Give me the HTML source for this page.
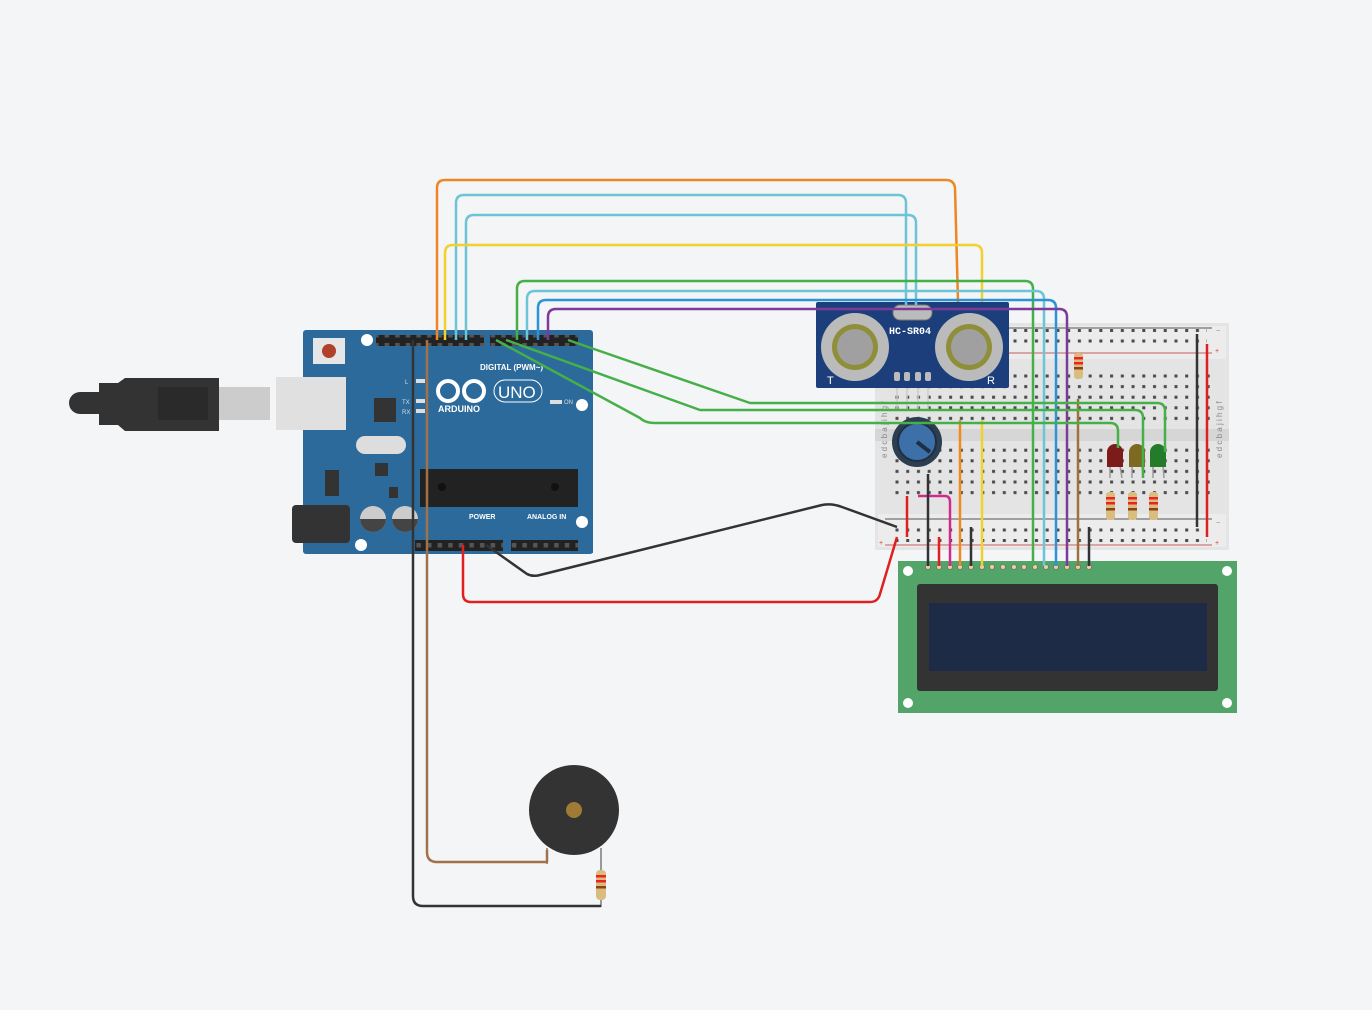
<!DOCTYPE html>
<html><head><meta charset="utf-8"><style>
html,body{margin:0;padding:0;background:#f3f5f7;}
svg{display:block;font-family:"Liberation Sans",sans-serif;}
</style></head><body>
<svg width="1372" height="1010" viewBox="0 0 1372 1010" xmlns="http://www.w3.org/2000/svg">
<defs>
<pattern id="dots" x="892" y="0" width="10.73" height="10.6" patternUnits="userSpaceOnUse">
<rect x="3.5" y="3.5" width="3" height="3" fill="#4a4a4a"/></pattern>
<pattern id="rdots" x="892" y="0" width="10.73" height="10.5" patternUnits="userSpaceOnUse">
<rect x="3.5" y="3.5" width="3" height="3" fill="#4a4a4a"/></pattern>
<pattern id="pins" x="0" y="0" width="10.6" height="10" patternUnits="userSpaceOnUse">
<rect x="3" y="3" width="4.5" height="4.5" fill="#555"/></pattern>
</defs>
<rect width="1372" height="1010" fill="#f3f5f7"/>

<!-- Breadboard -->
<rect x="875" y="323" width="354" height="227" fill="#e4e4e4" rx="2"/>
<rect x="878" y="326" width="348" height="33" fill="#ececec"/>
<rect x="878" y="514" width="348" height="33" fill="#ececec"/>
<rect x="875" y="429" width="354" height="12" fill="#d6d6d6"/>
<line x1="885" y1="328" x2="1212" y2="328" stroke="#555" stroke-width="1"/>
<line x1="885" y1="353" x2="1212" y2="353" stroke="#c65b5b" stroke-width="1"/>
<line x1="885" y1="519" x2="1212" y2="519" stroke="#555" stroke-width="1"/>
<line x1="885" y1="545" x2="1212" y2="545" stroke="#c65b5b" stroke-width="1"/>
<rect x="892" y="329" width="315" height="21" fill="url(#rdots)"/>
<rect x="892" y="521" width="315" height="21" fill="url(#rdots)"/>
<rect x="892" y="373" width="322" height="53" fill="url(#dots)"/>
<rect x="892" y="447" width="322" height="53" fill="url(#dots)"/>
<g font-size="7" fill="#777">
<text x="1216" y="333">−</text><text x="1215" y="353" fill="#d33">+</text>
<text x="1216" y="525">−</text><text x="1215" y="545" fill="#d33">+</text>
<text x="879" y="545" fill="#d33">+</text>
</g>
<g font-size="8" fill="#888" transform="rotate(-90)">
<text x="-458" y="887">e d c b a</text>
<text x="-425" y="887">j i h g f</text>
<text x="-458" y="1222">e d c b a</text>
<text x="-425" y="1222">j i h g f</text>
</g>

<!-- LCD -->
<rect x="898" y="561" width="339" height="152" fill="#52a468"/>
<circle cx="908" cy="571" r="5" fill="#fff"/><circle cx="1227" cy="571" r="5" fill="#fff"/>
<circle cx="908" cy="703" r="5" fill="#fff"/><circle cx="1227" cy="703" r="5" fill="#fff"/>
<rect x="917" y="584" width="301" height="107" fill="#333" rx="3"/>
<rect x="929" y="603" width="278" height="68" fill="#1e2b47"/>
<g fill="#e8d39a" stroke="#777" stroke-width="1">
<circle cx="928" cy="567" r="2.5"/><circle cx="939" cy="567" r="2.5"/><circle cx="950" cy="567" r="2.5"/><circle cx="960" cy="567" r="2.5"/><circle cx="971" cy="567" r="2.5"/><circle cx="982" cy="567" r="2.5"/><circle cx="992" cy="567" r="2.5"/><circle cx="1003" cy="567" r="2.5"/><circle cx="1014" cy="567" r="2.5"/><circle cx="1024" cy="567" r="2.5"/><circle cx="1035" cy="567" r="2.5"/><circle cx="1046" cy="567" r="2.5"/><circle cx="1056" cy="567" r="2.5"/><circle cx="1067" cy="567" r="2.5"/><circle cx="1078" cy="567" r="2.5"/><circle cx="1089" cy="567" r="2.5"/>
</g>

<!-- Breadboard internal wires -->
<g fill="none" stroke-width="2.5">
<line x1="1197" y1="334" x2="1197" y2="527" stroke="#333"/>
<line x1="1207" y1="344" x2="1207" y2="537" stroke="#e02020"/>
<line x1="907" y1="496" x2="907" y2="537" stroke="#e02020"/>
<line x1="939" y1="537" x2="939" y2="566" stroke="#e02020"/>
<path d="M918 496 H945 Q950 496 950 502 V566" stroke="#d02a8a"/>
<line x1="928" y1="474" x2="928" y2="566" stroke="#333"/>
<line x1="971" y1="527" x2="971" y2="566" stroke="#333"/>
<line x1="1089" y1="527" x2="1089" y2="566" stroke="#333"/>
<line x1="960" y1="420" x2="960" y2="566" stroke="#f08a1e"/>
<line x1="982" y1="420" x2="982" y2="566" stroke="#f2d12c"/>
<line x1="1078" y1="399" x2="1078" y2="566" stroke="#a0703f"/>
</g>
<!-- resistors on board -->
<g>
<rect x="1074" y="353" width="9" height="26" rx="3" fill="#d8bd7f"/>
<rect x="1074" y="357" width="9" height="2.5" fill="#e22"/><rect x="1074" y="362" width="9" height="2.5" fill="#e22"/><rect x="1074" y="367" width="9" height="2.5" fill="#8b4513"/>
<rect x="1106" y="492" width="9" height="28" rx="3" fill="#d8bd7f"/>
<rect x="1106" y="497" width="9" height="2.5" fill="#e22"/><rect x="1106" y="502" width="9" height="2.5" fill="#e22"/><rect x="1106" y="508" width="9" height="2.5" fill="#8b4513"/>
<rect x="1128" y="492" width="9" height="28" rx="3" fill="#d8bd7f"/>
<rect x="1128" y="497" width="9" height="2.5" fill="#e22"/><rect x="1128" y="502" width="9" height="2.5" fill="#e22"/><rect x="1128" y="508" width="9" height="2.5" fill="#8b4513"/>
<rect x="1149" y="492" width="9" height="28" rx="3" fill="#d8bd7f"/>
<rect x="1149" y="497" width="9" height="2.5" fill="#e22"/><rect x="1149" y="502" width="9" height="2.5" fill="#e22"/><rect x="1149" y="508" width="9" height="2.5" fill="#8b4513"/>
</g>
<!-- LEDs -->
<g stroke="#999" stroke-width="1.5">
<line x1="1110" y1="466" x2="1110" y2="478"/><line x1="1120" y1="466" x2="1122" y2="478"/>
<line x1="1132" y1="466" x2="1132" y2="478"/><line x1="1142" y1="466" x2="1143" y2="478"/>
<line x1="1153" y1="466" x2="1153" y2="478"/><line x1="1163" y1="466" x2="1164" y2="478"/>
</g>
<path d="M1107 467 V452 a8 8 0 0 1 16 0 V467 Z" fill="#7d1a1a"/>
<path d="M1129 467 V452 a8 8 0 0 1 16 0 V467 Z" fill="#7d6a22"/>
<path d="M1150 467 V452 a8 8 0 0 1 16 0 V467 Z" fill="#247b2a"/>
<!-- Potentiometer -->
<circle cx="917" cy="442" r="25" fill="#2c3e50"/>
<circle cx="917" cy="442" r="19" fill="#3d6fa8" stroke="#1f2f44" stroke-width="2"/>
<line x1="917" y1="442" x2="930" y2="452" stroke="#1f2f44" stroke-width="4"/>

<!-- HC-SR04 -->
<rect x="816" y="302" width="193" height="86" fill="#1c3f7c" rx="2"/>
<rect x="893" y="305" width="39" height="15" rx="7" fill="#bbb" stroke="#777"/>
<circle cx="855" cy="347" r="34" fill="#bbb"/><circle cx="855" cy="347" r="23" fill="#8f8f3a"/><circle cx="855" cy="347" r="18" fill="#a0a0a0"/>
<circle cx="969" cy="347" r="34" fill="#bbb"/><circle cx="969" cy="347" r="23" fill="#8f8f3a"/><circle cx="969" cy="347" r="18" fill="#a0a0a0"/>
<text x="889" y="334" font-size="10" font-weight="bold" fill="#fff" font-family="Liberation Mono,monospace">HC-SR04</text>
<g fill="#bbb"><rect x="894" y="372" width="6" height="9" rx="2"/><rect x="904" y="372" width="6" height="9" rx="2"/><rect x="915" y="372" width="6" height="9" rx="2"/><rect x="925" y="372" width="6" height="9" rx="2"/></g>
<g stroke="#ccc" stroke-width="1.5"><line x1="897" y1="388" x2="897" y2="410"/><line x1="907" y1="388" x2="907" y2="410"/><line x1="918" y1="388" x2="918" y2="410"/><line x1="928" y1="388" x2="928" y2="410"/></g>
<text x="827" y="384" font-size="11" fill="#fff">T</text><text x="987" y="384" font-size="11" fill="#fff">R</text>

<!-- Arduino -->
<rect x="303" y="330" width="290" height="224" fill="#2b6a9b" rx="3"/>
<path d="M575 330 L593 345 V553 H575 Z" fill="#2b6a9b"/>
<circle cx="367" cy="340" r="6" fill="#fff"/><circle cx="582" cy="405" r="6" fill="#fff"/><circle cx="582" cy="522" r="6" fill="#fff"/><circle cx="361" cy="545" r="6" fill="#fff"/>
<rect x="376" y="335" width="108" height="11" fill="#222"/><rect x="376" y="335" width="108" height="11" fill="url(#pins)"/>
<rect x="490" y="335" width="88" height="11" fill="#222"/><rect x="490" y="335" width="88" height="11" fill="url(#pins)"/>
<rect x="415" y="540" width="88" height="11" fill="#222"/><rect x="415" y="540" width="88" height="11" fill="url(#pins)"/>
<rect x="511" y="540" width="67" height="11" fill="#222"/><rect x="511" y="540" width="67" height="11" fill="url(#pins)"/>
<rect x="313" y="338" width="32" height="26" fill="#e6e6e6"/><circle cx="329" cy="351" r="7" fill="#b0412b"/>
<rect x="276" y="377" width="70" height="53" fill="#e0e0e0"/>
<rect x="374" y="398" width="22" height="24" fill="#333"/>
<rect x="356" y="436" width="50" height="18" rx="9" fill="#ddd"/>
<rect x="375" y="463" width="13" height="13" fill="#333"/>
<rect x="325" y="470" width="14" height="26" fill="#333"/>
<rect x="389" y="487" width="9" height="11" fill="#333"/>
<rect x="292" y="505" width="58" height="38" rx="4" fill="#333"/>
<circle cx="373" cy="519" r="13" fill="#ccc"/><path d="M360 519 a13 13 0 0 0 26 0 Z" fill="#444"/>
<circle cx="405" cy="519" r="13" fill="#ccc"/><path d="M392 519 a13 13 0 0 0 26 0 Z" fill="#444"/>
<rect x="420" y="469" width="158" height="38" fill="#222"/>
<circle cx="442" cy="487" r="4" fill="#111"/><circle cx="555" cy="487" r="4" fill="#111"/>
<g fill="#fff" font-weight="bold">
<text x="480" y="370" font-size="8">DIGITAL (PWM~)</text>
<text x="438" y="412" font-size="9">ARDUINO</text>
<text x="469" y="519" font-size="7">POWER</text>
<text x="527" y="519" font-size="7">ANALOG IN</text>
</g>
<circle cx="448" cy="391" r="10" fill="none" stroke="#fff" stroke-width="4"/>
<circle cx="474" cy="391" r="10" fill="none" stroke="#fff" stroke-width="4"/>
<rect x="494" y="380" width="48" height="22" rx="11" fill="none" stroke="#fff" stroke-width="1"/>
<text x="498" y="398" font-size="17" fill="#fff">UNO</text>
<g fill="#ddd" font-size="6"><text x="405" y="384">L</text><text x="402" y="404">TX</text><text x="402" y="414">RX</text><text x="564" y="404">ON</text></g>
<g fill="#ddd"><rect x="416" y="379" width="9" height="4"/><rect x="416" y="399" width="9" height="4"/><rect x="416" y="409" width="9" height="4"/><rect x="550" y="400" width="12" height="4"/></g>

<!-- USB cable -->
<rect x="219" y="387" width="51" height="33" fill="#ccc"/>
<path d="M125 378 H219 V431 H125 L118 425 H99 V414 H80 a11 11 0 0 1 0 -22 H99 V383 H118 Z" fill="#333"/>
<rect x="158" y="387" width="50" height="33" fill="#2a2a2a"/>

<!-- Buzzer -->
<circle cx="574" cy="810" r="45" fill="#333"/>
<circle cx="574" cy="810" r="8" fill="#a07b35"/>
<line x1="547" y1="848" x2="547" y2="864" stroke="#999" stroke-width="2"/>
<line x1="601" y1="848" x2="601" y2="907" stroke="#999" stroke-width="2"/>
<rect x="596" y="870" width="10" height="30" rx="4" fill="#d8bd7f"/>
<rect x="596" y="875" width="10" height="2.5" fill="#e22"/><rect x="596" y="880" width="10" height="2.5" fill="#e22"/><rect x="596" y="886" width="10" height="2.5" fill="#8b4513"/>

<!-- Wires -->
<g fill="none" stroke-width="2.5" stroke-linejoin="round">
<path d="M437 340 V188 Q437 180 445 180 H946 Q954 180 955 188 L958 302" stroke="#ef8523"/>
<path d="M456 340 V203 Q456 195 464 195 H898 Q906 195 906 203 V305" stroke="#6cc5d6"/>
<path d="M466 340 V223 Q466 215 474 215 H908 Q916 215 916 223 V305" stroke="#6cc5d6"/>
<path d="M445 340 V253 Q445 245 453 245 H974 Q982 245 982 253 V302" stroke="#f2d12c"/>
<path d="M517 340 V289 Q517 281 525 281 H1025 Q1033 281 1033 289 V566" stroke="#45b048"/>
<path d="M527 340 V299 Q527 291 535 291 H1036 Q1044 291 1044 299 V566" stroke="#6cc5d6"/>
<path d="M538 340 V308 Q538 300 546 300 H1048 Q1056 300 1056 308 V566" stroke="#2a94d6"/>
<path d="M548 340 V317 Q548 309 556 309 H1059 Q1067 309 1067 317 V566" stroke="#7e3a9a"/>
<path d="M496 340 L640 418 Q645 423 655 423 H1110 Q1118 423 1118 431 V448" stroke="#45b048"/>
<path d="M506 340 L700 410 H1135 Q1143 410 1143 418 V478" stroke="#45b048"/>
<path d="M568 340 L750 403 H1157 Q1165 403 1165 411 V452" stroke="#45b048"/>
<path d="M427 340 V852 Q427 862 437 862 H547 V850" stroke="#a2704a"/>
<path d="M413 340 V896 Q413 906 423 906 H601" stroke="#333"/>
<path d="M486 545 L527 574 Q533 577 540 575 L822 505 Q832 503 842 507 L897 527" stroke="#333"/>
<path d="M463 545 V594 Q463 602 471 602 H870 Q878 602 880 594 L897 537" stroke="#e02020"/>
</g>
</svg>
</body></html>
